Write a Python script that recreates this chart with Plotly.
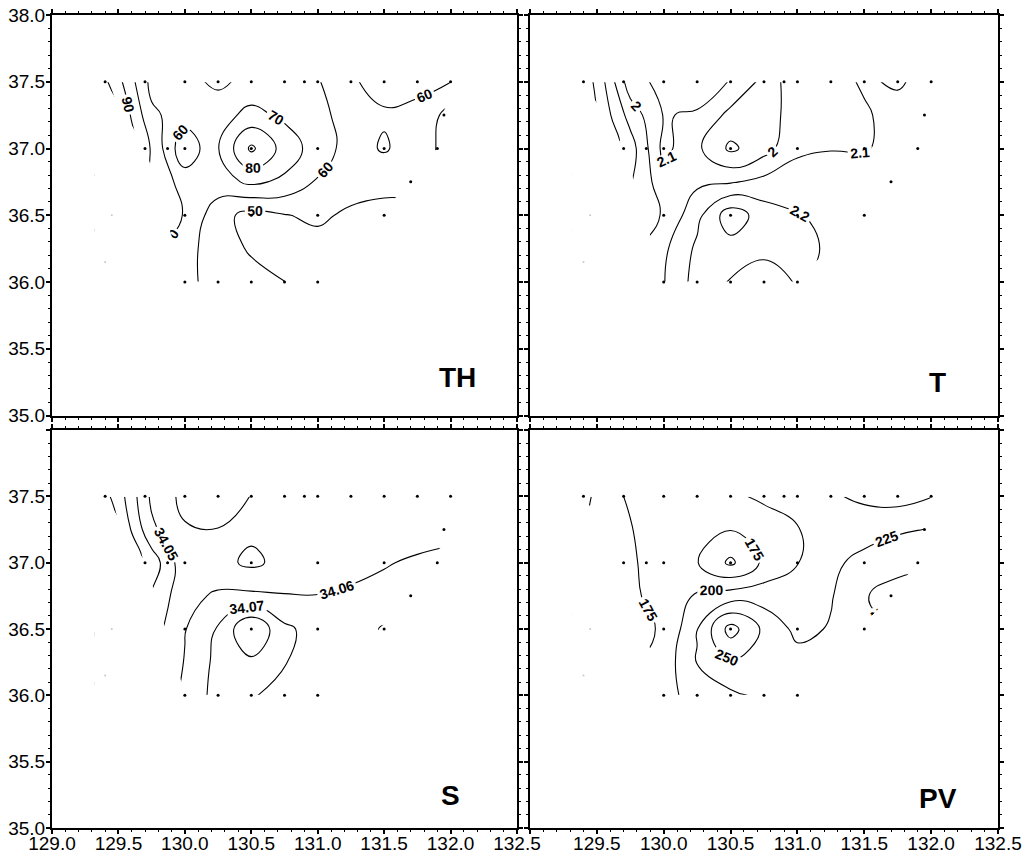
import plotly.graph_objects as go

# ---------------- data ----------------
lon_grid = [129.25, 129.5, 129.75, 130.0, 130.25, 130.5, 130.75, 131.0, 131.25, 131.5, 131.75, 132.0]
lat_grid = [36.0, 36.25, 36.5, 36.75, 37.0, 37.25, 37.5]

th_values = [
    [85, 78, 72, 62, 57, 53, 50.2, 45, 45, 44, 44, 43],
    [90, 82, 74, 64, 54, 49, 45, 46, 47, 46, 45, 44],
    [95, 85, 76, 69.5, 53.7, 46.6, 49.5, 52, 48, 47, 46, 45],
    [100, 90, 78, 66, 66, 72, 68, 59, 55, 52.8, 53, 48],
    [105, 100, 79, 52, 69.5, 92, 76, 65, 56, 61, 55, 46],
    [112, 100, 72, 65, 66, 73, 68, 62, 57, 59, 58, 46],
    [115, 93, 67, 63, 58, 63, 62, 60.1, 59, 63, 62, 60.2],
]

t_values = [
    [1.85, 1.92, 2.00, 2.095, 2.24, 2.195, 2.17, 2.205, 2.18, 2.17, 2.16, 2.16],
    [1.80, 1.88, 1.96, 2.08, 2.22, 2.26, 2.215, 2.22, 2.19, 2.16, 2.15, 2.15],
    [1.75, 1.85, 1.92, 2.01, 2.17, 2.36, 2.25, 2.205, 2.18, 2.17, 2.16, 2.16],
    [1.70, 1.80, 1.89, 2.06, 2.08, 2.09, 2.13, 2.15, 2.16, 2.17, 2.17, 2.17],
    [1.62, 1.70, 1.85, 2.13, 2.02, 1.88, 1.96, 2.08, 2.095, 2.09, 2.14, 2.15],
    [1.60, 1.70, 1.94, 2.105, 2.09, 1.97, 1.95, 2.05, 2.07, 2.09, 2.13, 2.14],
    [1.55, 1.72, 2.06, 2.13, 2.15, 2.095, 1.97, 2.03, 2.07, 2.11, 2.09, 2.13],
]

s_values = [
    [34.030, 34.040, 34.052, 34.062, 34.074, 34.071, 34.066, 34.065, 34.065, 34.065, 34.065, 34.065],
    [34.020, 34.035, 34.049, 34.0605, 34.073, 34.078, 34.0705, 34.066, 34.065, 34.065, 34.065, 34.065],
    [34.015, 34.030, 34.045, 34.0595, 34.071, 34.090, 34.072, 34.066, 34.065, 34.071, 34.065, 34.065],
    [34.010, 34.025, 34.041, 34.057, 34.0615, 34.062, 34.0605, 34.0602, 34.0615, 34.062, 34.063, 34.063],
    [34.000, 34.020, 34.034, 34.057, 34.053, 34.048, 34.053, 34.055, 34.057, 34.0595, 34.061, 34.062],
    [34.005, 34.0195, 34.048, 34.059, 34.0598, 34.052, 34.056, 34.055, 34.056, 34.057, 34.057, 34.058],
    [34.005, 34.025, 34.052, 34.063, 34.064, 34.0598, 34.056, 34.055, 34.056, 34.057, 34.057, 34.058],
]

pv_values = [
    [160, 168, 180, 190, 212, 220, 230, 232, 232, 238, 245, 252],
    [155, 165, 170, 186, 226, 248, 240, 235, 232, 240, 250, 258],
    [150, 165, 172, 176, 224, 285, 245, 218, 227, 240, 255, 262],
    [140, 160, 170, 185, 203, 212, 213, 215, 223, 248, 262, 265],
    [135, 160, 173, 182, 176, 145, 180, 199, 220, 232, 240, 245],
    [130, 160, 174, 182, 180, 176, 185, 199, 210, 215, 222, 226],
    [125, 155, 180, 185, 188, 195, 205, 207, 203, 195, 190, 199],
]

station_lon = [129.4, 129.7, 130.0, 130.25, 130.5, 130.75, 130.9, 131.0, 131.25, 131.5, 131.75, 132.0,
               131.95,
               129.7, 129.87, 130.0, 130.5, 131.0, 131.5, 131.9,
               131.7,
               130.0, 130.5, 131.0, 131.5,
               130.0, 130.25, 130.5, 130.75, 131.0]
station_lat = [37.5] * 12 + [37.25] + [37.0] * 7 + [36.75] + [36.5] * 4 + [36.0] * 5

faint_lon = [129.45, 129.4, 129.55, 129.35]
faint_lat = [36.5, 36.15, 35.65, 35.3]

hull_lon = [129.4, 132.0, 131.9, 131.7, 131.0, 130.0, 129.7]
hull_lat = [37.5, 37.5, 37.0, 36.75, 36.0, 36.0, 37.0]

x_range = [129.0, 132.5]
y_range = [35.0, 38.0]
x_tick_vals = [129.0, 129.5, 130.0, 130.5, 131.0, 131.5, 132.0, 132.5]
y_tick_vals = [35.0, 35.5, 36.0, 36.5, 37.0, 37.5, 38.0]

panel_names = ["TH", "T", "S", "PV"]
panel_fields = [th_values, t_values, s_values, pv_values]
level_start = [50, 1.7, 34.02, 150]
level_end = [100, 2.3, 34.08, 275]
level_step = [10, 0.1, 0.01, 25]
label_formats = [".0f", ".1~f", ".2f", ".0f"]

# ---------------- layout geometry ----------------
W, H = 1026, 857
px_left = [(52, 517), (530, 998), (52, 517), (530, 998)]
px_top = [(15, 415.5), (15, 415.5), (430, 828), (430, 828)]
label_px = [(457, 377), (937, 382), (450, 795), (938, 798)]

FONT = "Liberation Sans, Arial, sans-serif"

# station-area box (slightly padded); the contour layer lives on hidden axes over it
BOX_PAD = 0.08
bb_lon = [min(hull_lon) - BOX_PAD, max(hull_lon) + BOX_PAD]
bb_lat = [min(hull_lat) - BOX_PAD, max(hull_lat) + BOX_PAD]

fig = go.Figure()

# mask pieces outside the station hull
top_lat = max(hull_lat)
bot_lat = min(hull_lat)
xl, xh = x_range[0], x_range[1]
yl, yh = y_range[0], y_range[1]
pieces = [
    [(xl, top_lat), (xh, top_lat), (xh, yh), (xl, yh)],
    [(xl, yl), (xh, yl), (xh, bot_lat), (xl, bot_lat)],
    [(xl, bot_lat)] + [(hull_lon[i], hull_lat[i]) for i in (5, 6, 0)] + [(xl, top_lat)],
    [(xh, bot_lat)] + [(hull_lon[i], hull_lat[i]) for i in (4, 3, 2, 1)] + [(xh, top_lat)],
]
mask_x, mask_y = [], []
for poly in pieces:
    poly = poly + [poly[0]]
    mask_x += [p[0] for p in poly] + [None]
    mask_y += [p[1] for p in poly] + [None]

for k in range(4):
    xa = "x%d" % (k + 5)
    ya = "y%d" % (k + 5)
    fig.add_trace(go.Contour(
        x=lon_grid, y=lat_grid, z=panel_fields[k],
        xaxis=xa, yaxis=ya,
        autocontour=False,
        contours=dict(start=level_start[k], end=level_end[k] + level_step[k] * 0.01,
                      size=level_step[k], coloring="lines", showlabels=True,
                      labelformat=label_formats[k],
                      labelfont=dict(size=14, color="black", family=FONT, weight="bold")),
        colorscale=[[0, "black"], [1, "black"]],
        line=dict(width=1.1, smoothing=1.3),
        showscale=False, hoverinfo="skip",
    ))
    fig.add_trace(go.Scatter(
        x=mask_x, y=mask_y, xaxis=xa, yaxis=ya, mode="lines",
        fill="toself", fillcolor="white", line=dict(color="white", width=1),
        hoverinfo="skip", showlegend=False,
    ))
    fig.add_trace(go.Scatter(
        x=faint_lon, y=faint_lat, xaxis=xa, yaxis=ya, mode="markers", cliponaxis=False,
        marker=dict(size=2, color="#c8c8c8"), hoverinfo="skip", showlegend=False,
    ))
    fig.add_trace(go.Scatter(
        x=station_lon, y=station_lat, xaxis=xa, yaxis=ya, mode="markers", cliponaxis=False,
        marker=dict(size=3, color="black"), hoverinfo="skip", showlegend=False,
    ))
    # empty trace so the framed axes exist
    fig.add_trace(go.Scatter(
        x=[None], y=[None], xaxis="x" if k == 0 else "x%d" % (k + 1),
        yaxis="y" if k == 0 else "y%d" % (k + 1), mode="markers",
        hoverinfo="skip", showlegend=False,
    ))

layout = dict(width=W, height=H, autosize=False,
              margin=dict(l=0, r=0, t=0, b=0, pad=0, autoexpand=False),
              paper_bgcolor="white", plot_bgcolor="rgba(0,0,0,0)", showlegend=False,
              font=dict(family=FONT, size=19, color="black"))

x_labels_full = ["%.1f" % v for v in x_tick_vals]
x_labels_right = [""] + x_labels_full[1:]
y_labels_full = ["%.1f" % v for v in y_tick_vals]
y_labels_bottom = y_labels_full[:-1] + [""]

for k in range(4):
    x0, x1 = px_left[k]
    t0, t1 = px_top[k]
    xdom = [x0 / W, x1 / W]
    ydom = [1 - t1 / H, 1 - t0 / H]
    common = dict(showline=True, linewidth=2, linecolor="black", mirror="allticks",
                  ticks="outside", ticklen=4, tickwidth=1.5, tickcolor="black",
                  showgrid=False, zeroline=False, automargin=False,
                  tickfont=dict(size=19, family=FONT, color="black"),
                  minor=dict(dtick=0.1, ticks="outside", ticklen=2, tickwidth=1,
                             tickcolor="black", showgrid=False))
    xa = dict(common, domain=xdom, range=x_range, tickmode="array", tickvals=x_tick_vals,
              ticklabelstandoff=-7,
              anchor="y" if k == 0 else "y%d" % (k + 1))
    ya = dict(common, domain=ydom, range=y_range, tickmode="array", tickvals=y_tick_vals,
              ticklabelstandoff=-3,
              anchor="x" if k == 0 else "x%d" % (k + 1))
    if k == 2:
        xa["ticktext"] = x_labels_full
    elif k == 3:
        xa["ticktext"] = x_labels_right
    else:
        xa["showticklabels"] = False
    if k == 0:
        ya["ticktext"] = y_labels_full
    elif k == 2:
        ya["ticktext"] = y_labels_bottom
    else:
        ya["showticklabels"] = False
    layout["xaxis" if k == 0 else "xaxis%d" % (k + 1)] = xa
    layout["yaxis" if k == 0 else "yaxis%d" % (k + 1)] = ya

    # hidden axes covering only the station box, pixel-aligned with the framed axes
    def px_x(lon):
        return x0 + (lon - x_range[0]) / (x_range[1] - x_range[0]) * (x1 - x0)

    def px_y(lat):
        return t1 - (lat - y_range[0]) / (y_range[1] - y_range[0]) * (t1 - t0)

    hx = dict(domain=[px_x(bb_lon[0]) / W, px_x(bb_lon[1]) / W], range=bb_lon,
              visible=False, showgrid=False, zeroline=False, automargin=False,
              anchor="y%d" % (k + 5), fixedrange=True)
    hy = dict(domain=[1 - px_y(bb_lat[0]) / H, 1 - px_y(bb_lat[1]) / H], range=bb_lat,
              visible=False, showgrid=False, zeroline=False, automargin=False,
              anchor="x%d" % (k + 5), fixedrange=True)
    layout["xaxis%d" % (k + 5)] = hx
    layout["yaxis%d" % (k + 5)] = hy

fig.update_layout(**layout)

for k in range(4):
    cx, cy = label_px[k]
    fig.add_annotation(x=cx / W, y=1 - cy / H, xref="paper", yref="paper",
                       text="<b>%s</b>" % panel_names[k], showarrow=False,
                       xanchor="center", yanchor="middle",
                       font=dict(size=28, family=FONT, color="black"))

fig.write_html("out.html", config={"displayModeBar": False, "responsive": False},
               post_script="document.body.style.margin='0';")
